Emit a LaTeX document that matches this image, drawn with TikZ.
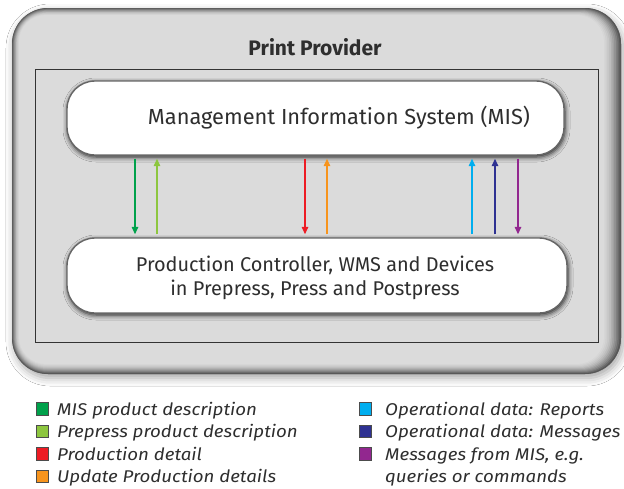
\documentclass[tikz,border=0pt]{standalone}
\usepackage{fontspec}
\setmainfont{Fira Sans}
\newfontfamily\legfont[FakeStretch=1.1]{Fira Sans}
\usetikzlibrary{shadows.blur,arrows.meta}
\definecolor{cGreen}{HTML}{00A14B}
\definecolor{cLime}{HTML}{8DC63F}
\definecolor{cRed}{HTML}{ED1C24}
\definecolor{cOrange}{HTML}{F7941D}
\definecolor{cCyan}{HTML}{00AEEF}
\definecolor{cNavy}{HTML}{2E3192}
\definecolor{cPurple}{HTML}{92278F}
\definecolor{txt}{HTML}{2E2E2E}
\begin{document}
\begin{tikzpicture}[x=1pt,y=-1pt,
  arr/.style={line width=1.4pt,-{Triangle[length=7.5pt,width=6.5pt]},shorten <=3pt,shorten >=3pt},
  pill/.style={fill=white,draw=black!60,line width=1.4pt,rounded corners=28pt,inner sep=0,
    blur shadow={shadow xshift=1pt,shadow yshift=-2pt,shadow blur radius=5pt,shadow opacity=90}},
  legsq/.style={draw=black!70,line width=0.6pt,minimum size=12.5pt,inner sep=0},
  legtx/.style={anchor=base west,inner sep=0,text=txt,font=\legfont\itshape\fontsize{17}{20}\selectfont}]
\useasboundingbox (0,0) rectangle (624,488);
\fill[white] (0,0) rectangle (624,488);
% outer box with soft outer shadow
\path[fill=black!60,rounded corners=36pt,
  blur shadow={shadow xshift=2pt,shadow yshift=-4pt,shadow blur radius=8pt,shadow opacity=35}]
  (12,8) rectangle (621,374);
\foreach \i/\c in {0/66,1/58,2/50,3/43,4/37,5/31,6/26,7/22,8/19,9/16,10/14}{
  \pgfmathsetmacro\rr{36-\i*0.9}
  \fill[black!\c,rounded corners=\rr pt]
    ({12+\i*0.7},{8+\i*0.7}) rectangle ({621-\i*1.7},{374-\i*1.0});
}
\node[font=\bfseries\fontsize{21}{24}\selectfont,text=txt] (title) at (315,47) {Print Provider};
% inner frame
\draw[black!80,line width=1pt,fill=black!14] (35,69) rectangle (598,342);
% boxes
\node[pill,minimum width=497pt,minimum height=74pt] (mis) at (315.5,118) {};
\node[text=txt,font=\fontsize{21.8}{26}\selectfont] (mistext) at (339,118) {Management Information System (MIS)};
\node[pill,minimum width=500pt,minimum height=75pt] (prod) at (317,275.5) {};
\node[text=txt,font=\fontsize{19.9}{24.5}\selectfont,align=center] (prodtext) at (315,278)
  {Production Controller, WMS and Devices\\in Prepress, Press and Postpress};
% arrows
\foreach \n/\x in {a/135,b/157,c/305,d/327,e/472,f/495,g/518}{\coordinate (x\n) at (\x,0);}
\draw[arr,cGreen] (mis.south -| xa) -- (prod.north -| xa);
\draw[arr,cLime] (prod.north -| xb) -- (mis.south -| xb);
\draw[arr,cRed] (mis.south -| xc) -- (prod.north -| xc);
\draw[arr,cOrange] (prod.north -| xd) -- (mis.south -| xd);
\draw[arr,cCyan] (prod.north -| xe) -- (mis.south -| xe);
\draw[arr,cNavy] (prod.north -| xf) -- (mis.south -| xf);
\draw[arr,cPurple] (mis.south -| xg) -- (prod.north -| xg);
% legend
\node[legsq,fill=cGreen] (s1) at (42.5,409) {};
\node[legsq,fill=cLime] (s2) at (42.5,431.5) {};
\node[legsq,fill=cRed] (s3) at (42.5,454) {};
\node[legsq,fill=cOrange] (s4) at (42.5,476.5) {};
\node[legsq,fill=cCyan] (s5) at (365.5,409) {};
\node[legsq,fill=cNavy] (s6) at (365.5,431.5) {};
\node[legsq,fill=cPurple] (s7) at (365.5,454) {};
\node[legtx] (t1) at (57,415) {MIS product description};
\node[legtx] (t2) at (57,437.5) {Prepress product description};
\node[legtx] (t3) at (57,460) {Production detail};
\node[legtx] (t4) at (57,482.5) {Update Production details};
\node[legtx] (t5) at (385,415) {Operational data: Reports};
\node[legtx] (t6) at (385,437.5) {Operational data: Messages};
\node[legtx] (t7) at (385,460) {Messages from MIS, e.g.};
\node[legtx] (t8) at (385,482.5) {queries or commands};
\end{tikzpicture}
\end{document}
